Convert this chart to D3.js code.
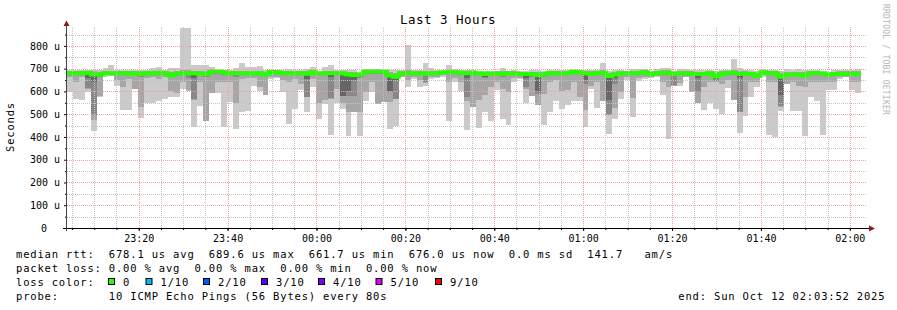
<!DOCTYPE html>
<html>
<head>
<meta charset="utf-8">
<script src="https://cdn.jsdelivr.net/npm/d3@7.9.0/dist/d3.min.js"></script>
<style>
  body { margin: 0; background: #fff; }
  svg { display: block; font-family: "DejaVu Sans Mono", monospace; }
</style>
</head>
<body>
<svg id="chart" width="897" height="310"></svg>
<script>
// ---- data (microseconds), one entry per 80 s step ----
const startTime = new Date(Date.UTC(2025, 9, 11, 23, 3, 52));
const endTime = new Date(Date.UTC(2025, 9, 12, 2, 3, 52));
const stepSeconds = 80;

const median = [
  680,680,680,682,674,674,680,680,680,680,678,680,676,680,680,682,680,670,678,680,
  680,680,678,676,688,688,684,680,680,680,680,678,680,674,685,684,680,680,680,680,
  678,684,680,680,680,680,680,675,672,675,688,688,688,688,670,664,680,680,680,680,
  678,680,680,684,684,684,682,680,682,680,676,680,678,676,680,680,676,676,676,672,
  674,680,680,680,680,688,684,680,678,680,682,668,674,680,680,680,682,684,676,680,
  682,682,676,680,680,678,676,676,680,666,676,682,682,678,678,676,668,684,680,680,
  664,674,674,674,670,680,680,680,674,676,678,678,678,678
];
const pingMax = [
  696,696,696,696,694,692,703,714,696,696,696,694,694,696,703,709,692,703,703,879,
  879,714,714,718,709,692,692,692,702,724,709,709,712,696,692,692,696,699,692,692,
  699,709,684,709,718,694,692,692,692,680,699,699,699,694,696,692,694,806,692,692,
  725,702,692,684,718,699,692,692,692,684,690,684,688,703,690,694,688,690,694,692,
  690,692,696,694,694,696,696,692,692,692,724,690,692,692,690,699,699,699,688,699,
  702,702,690,699,699,692,692,692,692,690,692,692,741,702,692,692,688,699,692,694,
  688,699,696,699,696,692,692,684,680,692,692,692,692,699
];
const ping9 = [
  688,690,690,690,688,686,690,690,688,688,688,688,688,688,690,690,688,686,688,696,
  696,690,688,690,692,690,690,688,690,690,690,688,690,686,690,690,690,690,688,688,
  688,692,684,690,690,688,688,686,686,680,692,692,692,692,686,682,690,692,688,688,
  690,688,688,684,692,690,690,688,688,684,686,684,688,688,688,688,686,686,686,686,
  686,688,688,688,688,692,690,688,688,688,692,680,686,688,688,688,690,692,686,690,
  692,692,686,688,688,688,686,686,688,680,688,690,692,688,688,686,680,690,688,688,
  680,686,686,686,684,688,688,684,680,686,688,688,688,688
];
const ping2 = [
  665,640,662,612,475,578,670,672,648,618,655,611,533,660,665,655,662,604,592,640,
  607,563,640,472,593,640,640,640,548,655,660,660,618,586,662,665,650,640,655,633,
  577,655,549,563,567,611,548,508,508,508,596,640,545,552,552,567,665,650,665,648,
  636,662,665,670,640,660,640,560,530,563,586,618,640,611,596,660,660,611,582,540,
  590,640,648,604,607,640,577,519,626,640,560,498,527,596,665,572,660,665,665,668,
  640,620,626,636,665,596,548,618,640,640,633,650,563,508,574,640,640,670,640,640,
  530,632,640,626,621,640,640,640,640,640,665,665,640,640
];
const ping3 = [
  672,672,672,615,498,665,674,675,672,670,672,672,665,672,672,672,672,662,668,672,
  660,565,670,662,675,676,672,672,665,672,672,672,672,668,678,678,672,672,672,672,
  577,676,670,670,572,672,582,582,582,660,676,676,676,676,596,567,672,672,672,672,
  640,672,672,676,676,676,674,574,670,670,660,670,670,662,670,672,670,618,665,590,
  665,672,672,670,670,678,676,633,670,672,672,498,633,672,672,670,674,676,670,672,
  674,674,628,672,672,670,596,668,672,645,670,674,674,510,670,668,662,678,672,672,
  538,668,668,668,665,672,672,672,668,670,672,672,672,672
];
const ping4 = [
  676,676,676,660,640,670,677,677,676,676,676,676,674,676,676,676,676,666,674,676,
  676,660,675,672,680,682,678,676,674,676,676,676,676,672,682,682,676,676,676,676,
  655,680,676,676,665,676,582,604,650,670,682,682,682,682,600,650,676,676,676,676,
  670,676,676,680,680,680,678,660,676,676,665,676,676,666,676,676,672,660,670,604,
  670,676,676,676,676,684,680,650,674,676,676,563,660,676,676,676,678,680,672,676,
  678,678,668,676,676,674,660,672,676,655,674,678,678,660,674,672,665,682,676,676,
  586,672,672,672,668,676,676,676,672,674,676,676,676,676
];
const pingMin = [
  599,567,563,599,428,575,665,668,626,519,519,611,484,548,548,557,567,577,574,611,
  604,445,534,472,593,592,445,552,435,508,513,626,604,586,655,660,596,457,523,607,
  508,618,481,545,410,548,523,403,508,405,560,596,545,600,435,450,662,621,655,618,
  626,655,658,665,469,640,604,431,530,440,508,469,607,479,454,640,655,548,582,540,
  454,508,560,523,542,557,557,445,611,527,560,413,479,567,650,489,645,655,660,662,
  585,391,626,626,662,596,548,520,547,521,500,615,563,416,494,577,618,662,408,400,
  513,632,513,513,403,577,557,408,608,607,655,662,608,593
];

const yMax = 883;
const yLabels = [0, 100, 200, 300, 400, 500, 600, 700, 800];
const lossColors = ['#26ff00', '#00b8ff', '#0059ff', '#5e00ff', '#7e00ff', '#dd00ff', '#ff0000'];
const lossLabels = ['0', '1/10', '2/10', '3/10', '4/10', '5/10', '9/10'];

// ---- layout ----
const svg = d3.select('#chart');
const plot = { left: 67, right: 867, top: 27, bottom: 228 };

const x = d3.scaleUtc().domain([startTime, endTime]).range([plot.left, plot.right]);
const y = d3.scaleLinear().domain([0, yMax]).range([plot.bottom, plot.top]);

const steps = median.map((m, i) => ({
  i,
  t0: new Date(+startTime + i * stepSeconds * 1000),
  t1: new Date(+startTime + (i + 1) * stepSeconds * 1000),
}));

// smoke bands, outer to inner
const bands = [
  { lo: pingMin, hi: pingMax, color: '#cacaca' },
  { lo: ping2, hi: ping9, color: '#a6a6a6' },
  { lo: ping3, hi: median, color: '#888888' },
  { lo: ping4, hi: median, color: '#666666' },
];

const smoke = svg.append('g').attr('shape-rendering', 'crispEdges');
bands.forEach((b) => {
  smoke.append('g')
    .selectAll('rect')
    .data(steps)
    .join('rect')
    .attr('x', (d) => Math.round(x(d.t0)))
    .attr('width', (d) => Math.round(x(d.t1)) - Math.round(x(d.t0)))
    .attr('y', (d) => Math.round(y(b.hi[d.i])))
    .attr('height', (d) => Math.max(0, Math.round(y(b.lo[d.i])) - Math.round(y(b.hi[d.i]))))
    .attr('fill', b.color);
});

// median line
const medianPts = steps.map((d) => [d.t0, median[d.i]]);
medianPts.push([steps[steps.length - 1].t1, median[median.length - 1]]);
svg.append('path')
  .datum(medianPts)
  .attr('fill', 'none')
  .attr('stroke', lossColors[0])
  .attr('stroke-width', 4)
  .attr('d', d3.line().x((d) => x(d[0])).y((d) => y(d[1])).curve(d3.curveStepAfter));

// ---- grid (drawn over the data, like rrdtool) ----
const grid = svg.append('g').attr('shape-rendering', 'crispEdges').attr('stroke-dasharray', '1,1');
const px = (v) => Math.round(v) + 0.5;

const hMinor = d3.range(50, yMax, 50).filter((v) => v % 100 !== 0);
const hMajor = d3.range(100, yMax, 100);
const vMinor = d3.utcMinute.every(5).range(startTime, endTime).filter((t) => t.getUTCMinutes() % 20 !== 0);
const vMajor = d3.utcMinute.every(20).range(startTime, endTime);

grid.append('g').selectAll('line').data(hMinor).join('line')
  .attr('x1', plot.left).attr('x2', plot.right)
  .attr('y1', (d) => px(y(d))).attr('y2', (d) => px(y(d)))
  .attr('stroke', '#c4c4c4');
grid.append('g').selectAll('line').data(vMinor).join('line')
  .attr('y1', plot.top).attr('y2', plot.bottom)
  .attr('x1', (d) => px(x(d))).attr('x2', (d) => px(x(d)))
  .attr('stroke', '#c4c4c4');
grid.append('g').selectAll('line').data(hMajor).join('line')
  .attr('x1', plot.left).attr('x2', plot.right)
  .attr('y1', (d) => px(y(d))).attr('y2', (d) => px(y(d)))
  .attr('stroke', '#f4a0a0');
grid.append('g').selectAll('line').data(vMajor).join('line')
  .attr('y1', plot.top).attr('y2', plot.bottom)
  .attr('x1', (d) => px(x(d))).attr('x2', (d) => px(x(d)))
  .attr('stroke', '#f4a0a0');

// ---- axes ----
const xAxis = svg.append('g')
  .attr('transform', `translate(0, ${plot.bottom})`)
  .call(d3.axisBottom(x).ticks(d3.utcMinute.every(20)).tickFormat(d3.utcFormat('%H:%M')).tickSize(3).tickPadding(4))
  .call((g) => g.select('.domain').remove());
xAxis.selectAll('text').attr('font-family', '"DejaVu Sans Mono", monospace').attr('font-size', 10).attr('fill', '#000');

svg.append('g')
  .attr('transform', `translate(0, ${plot.bottom})`)
  .call(d3.axisBottom(x).ticks(d3.utcMinute.every(5)).tickFormat('').tickSize(2))
  .call((g) => g.select('.domain').remove());

const yAxis = svg.append('g')
  .attr('transform', `translate(${plot.left}, 0)`)
  .call(d3.axisLeft(y).tickValues(yLabels).tickFormat((d) => (d ? d + ' u' : '0')).tickSize(3).tickPadding(4))
  .call((g) => g.select('.domain').remove());
yAxis.selectAll('text').attr('font-family', '"DejaVu Sans Mono", monospace').attr('font-size', 10).attr('fill', '#000');
yAxis.selectAll('text').filter((d) => d === 0).attr('dx', -13);

svg.append('g')
  .attr('transform', `translate(${plot.left}, 0)`)
  .call(d3.axisLeft(y).tickValues(hMinor).tickFormat('').tickSize(2))
  .call((g) => g.select('.domain').remove());

svg.append('line')
  .attr('x1', 63).attr('x2', 870).attr('y1', plot.bottom + 0.5).attr('y2', plot.bottom + 0.5)
  .attr('stroke', '#000');
svg.append('line')
  .attr('x1', plot.left - 0.5).attr('x2', plot.left - 0.5).attr('y1', plot.bottom + 3).attr('y2', 24)
  .attr('stroke', '#444');
svg.append('polygon').attr('points', '869,225.5 875,228.5 869,231.5').attr('fill', '#8b1a1a');
svg.append('polygon').attr('points', '63.5,26 66.5,20.5 69.5,26').attr('fill', '#8b1a1a');

// ---- titles ----
svg.append('text')
  .attr('x', 448).attr('y', 24)
  .attr('text-anchor', 'middle')
  .attr('font-size', 12.5).attr('letter-spacing', 0.47)
  .text('Last 3 Hours');

svg.append('text')
  .attr('transform', 'translate(14, 127) rotate(-90)')
  .attr('text-anchor', 'middle')
  .attr('font-size', 10.5).attr('letter-spacing', 0.8)
  .text('Seconds');

svg.append('text')
  .attr('transform', 'translate(883, 4) rotate(90)')
  .attr('font-size', 8).attr('letter-spacing', 0.23)
  .attr('fill', '#b4b4b4')
  .text('RRDTOOL / TOBI OETIKER');

// ---- legend ----
const nbsp = (s) => s.replace(/ /g, '\u00a0');
const legend = svg.append('g')
  .attr('font-size', 10.5).attr('letter-spacing', 0.82);

const legendLines = [
  'median rtt:  678.1 us avg  689.6 us max  661.7 us min  676.0 us now  0.0 ms sd  141.7   am/s',
  'packet loss: 0.00 % avg  0.00 % max  0.00 % min  0.00 % now',
  'loss color:',
  'probe:       10 ICMP Echo Pings (56 Bytes) every 80s',
];
legend.selectAll('text.row').data(legendLines).join('text')
  .attr('class', 'row')
  .attr('x', 16).attr('y', (d, i) => 257.5 + i * 14)
  .text((d) => nbsp(d));

const swatchX = [108, 145.5, 203, 261, 318, 375.5, 435];
const sw = legend.selectAll('g.sw').data(lossColors).join('g').attr('class', 'sw');
sw.append('rect')
  .attr('x', (d, i) => swatchX[i] + 0.5).attr('y', 278.5)
  .attr('width', 6).attr('height', 6)
  .attr('fill', (d) => d).attr('stroke', '#000');
sw.append('text')
  .attr('x', (d, i) => swatchX[i] + 15).attr('y', 285.5)
  .text((d, i) => lossLabels[i]);

legend.append('text')
  .attr('x', 678.3).attr('y', 299.5)
  .text(nbsp('end: Sun Oct 12 02:03:52 2025'));
</script>
</body>
</html>
